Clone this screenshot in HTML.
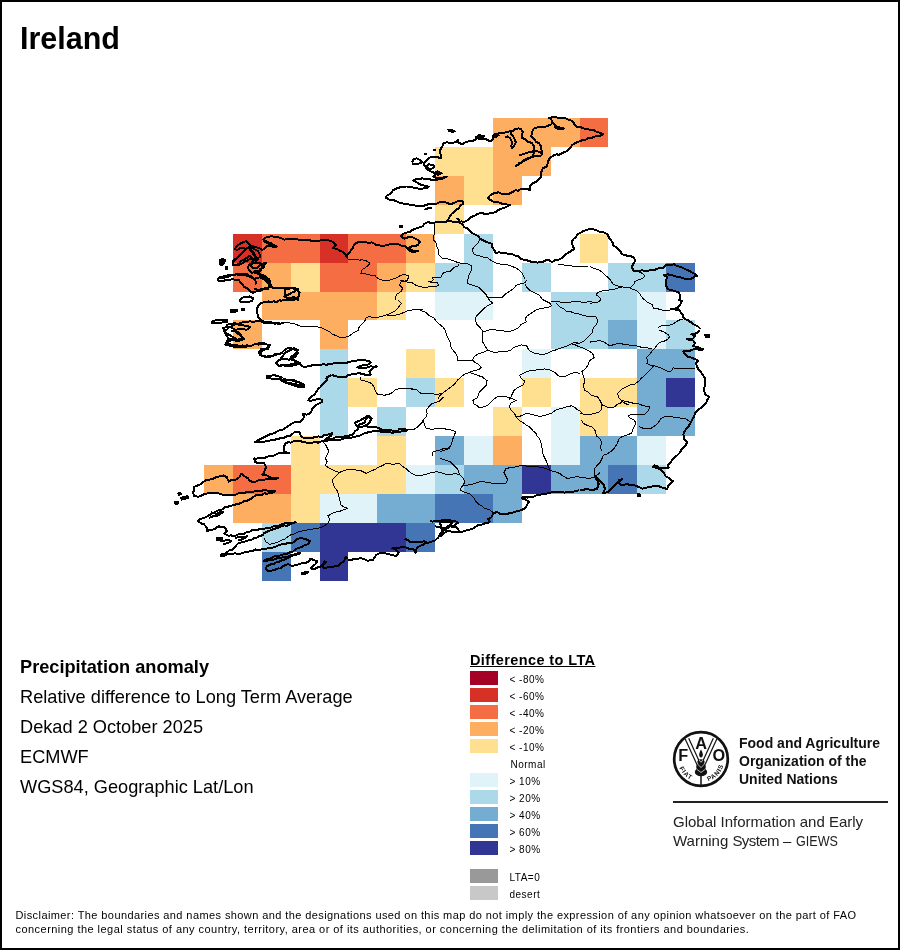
<!DOCTYPE html>
<html><head><meta charset="utf-8"><style>
*{margin:0;padding:0;box-sizing:border-box}
html,body{width:900px;height:950px;background:#fff;overflow:hidden}
body{position:relative;font-family:"Liberation Sans",sans-serif;color:#000}
.gs{position:absolute;left:0;top:0;width:900px;height:950px;will-change:transform}
#frame{position:absolute;left:0;top:0;width:900px;height:950px;border:2px solid #000}
.t{position:absolute;white-space:nowrap;line-height:1}
#title{left:20px;top:23px;font-size:30.5px;font-weight:bold}
.info{position:absolute;left:20px;font-size:18.2px;white-space:nowrap;line-height:20px}
#lt{position:absolute;left:470px;top:652px;font-size:14.5px;font-weight:bold;text-decoration:underline;white-space:nowrap;line-height:17px;letter-spacing:0.4px}
.lb{position:absolute;left:470px;width:28px;height:14px}
.lt{position:absolute;left:509.5px;margin-top:2px;font-size:10px;line-height:14px;white-space:nowrap;letter-spacing:0.5px}
#map{position:absolute;left:0;top:0}
.fao{position:absolute;left:739px;font-weight:bold;font-size:14px;line-height:18px;white-space:nowrap;color:#111}
.giews{position:absolute;left:673px;font-size:15px;line-height:18px;white-space:nowrap;color:#222}
#disc1,#disc2{position:absolute;left:15.5px;font-size:11px;line-height:13px;white-space:nowrap}
#disc1{top:909px;letter-spacing:0.41px}
#disc2{top:922.5px;letter-spacing:0.46px}
</style></head><body>
<svg id="map" width="900" height="950" viewBox="0 0 900 950" shape-rendering="crispEdges">
<rect x="492.86" y="117.95" width="28.90" height="28.95" fill="#fdae61"/>
<rect x="521.74" y="117.95" width="28.90" height="28.95" fill="#fdae61"/>
<rect x="550.62" y="117.95" width="28.90" height="28.95" fill="#fdae61"/>
<rect x="579.50" y="117.95" width="28.90" height="28.95" fill="#f46d43"/>
<rect x="435.10" y="146.88" width="28.90" height="28.95" fill="#fee090"/>
<rect x="463.98" y="146.88" width="28.90" height="28.95" fill="#fee090"/>
<rect x="492.86" y="146.88" width="28.90" height="28.95" fill="#fdae61"/>
<rect x="521.74" y="146.88" width="28.90" height="28.95" fill="#fdae61"/>
<rect x="435.10" y="175.81" width="28.90" height="28.95" fill="#fdae61"/>
<rect x="463.98" y="175.81" width="28.90" height="28.95" fill="#fee090"/>
<rect x="492.86" y="175.81" width="28.90" height="28.95" fill="#fdae61"/>
<rect x="435.10" y="204.74" width="28.90" height="28.95" fill="#fee090"/>
<rect x="232.94" y="233.67" width="28.90" height="28.95" fill="#d73027"/>
<rect x="261.82" y="233.67" width="28.90" height="28.95" fill="#f46d43"/>
<rect x="290.70" y="233.67" width="28.90" height="28.95" fill="#f46d43"/>
<rect x="319.58" y="233.67" width="28.90" height="28.95" fill="#d73027"/>
<rect x="348.46" y="233.67" width="28.90" height="28.95" fill="#f46d43"/>
<rect x="377.34" y="233.67" width="28.90" height="28.95" fill="#f46d43"/>
<rect x="406.22" y="233.67" width="28.90" height="28.95" fill="#fdae61"/>
<rect x="463.98" y="233.67" width="28.90" height="28.95" fill="#abd9e9"/>
<rect x="579.50" y="233.67" width="28.90" height="28.95" fill="#fee090"/>
<rect x="232.94" y="262.60" width="28.90" height="28.95" fill="#f46d43"/>
<rect x="261.82" y="262.60" width="28.90" height="28.95" fill="#fdae61"/>
<rect x="290.70" y="262.60" width="28.90" height="28.95" fill="#fee090"/>
<rect x="319.58" y="262.60" width="28.90" height="28.95" fill="#f46d43"/>
<rect x="348.46" y="262.60" width="28.90" height="28.95" fill="#f46d43"/>
<rect x="377.34" y="262.60" width="28.90" height="28.95" fill="#fdae61"/>
<rect x="406.22" y="262.60" width="28.90" height="28.95" fill="#fee090"/>
<rect x="435.10" y="262.60" width="28.90" height="28.95" fill="#abd9e9"/>
<rect x="463.98" y="262.60" width="28.90" height="28.95" fill="#abd9e9"/>
<rect x="521.74" y="262.60" width="28.90" height="28.95" fill="#abd9e9"/>
<rect x="608.38" y="262.60" width="28.90" height="28.95" fill="#abd9e9"/>
<rect x="637.26" y="262.60" width="28.90" height="28.95" fill="#abd9e9"/>
<rect x="666.14" y="262.60" width="28.90" height="28.95" fill="#4575b4"/>
<rect x="261.82" y="291.53" width="28.90" height="28.95" fill="#fdae61"/>
<rect x="290.70" y="291.53" width="28.90" height="28.95" fill="#fdae61"/>
<rect x="319.58" y="291.53" width="28.90" height="28.95" fill="#fdae61"/>
<rect x="348.46" y="291.53" width="28.90" height="28.95" fill="#fdae61"/>
<rect x="377.34" y="291.53" width="28.90" height="28.95" fill="#fee090"/>
<rect x="435.10" y="291.53" width="28.90" height="28.95" fill="#e0f3f8"/>
<rect x="463.98" y="291.53" width="28.90" height="28.95" fill="#e0f3f8"/>
<rect x="550.62" y="291.53" width="28.90" height="28.95" fill="#abd9e9"/>
<rect x="579.50" y="291.53" width="28.90" height="28.95" fill="#abd9e9"/>
<rect x="608.38" y="291.53" width="28.90" height="28.95" fill="#abd9e9"/>
<rect x="637.26" y="291.53" width="28.90" height="28.95" fill="#e0f3f8"/>
<rect x="232.94" y="320.46" width="28.90" height="28.95" fill="#fdae61"/>
<rect x="319.58" y="320.46" width="28.90" height="28.95" fill="#fdae61"/>
<rect x="550.62" y="320.46" width="28.90" height="28.95" fill="#abd9e9"/>
<rect x="579.50" y="320.46" width="28.90" height="28.95" fill="#abd9e9"/>
<rect x="608.38" y="320.46" width="28.90" height="28.95" fill="#74add1"/>
<rect x="637.26" y="320.46" width="28.90" height="28.95" fill="#e0f3f8"/>
<rect x="666.14" y="320.46" width="28.90" height="28.95" fill="#abd9e9"/>
<rect x="319.58" y="349.39" width="28.90" height="28.95" fill="#abd9e9"/>
<rect x="406.22" y="349.39" width="28.90" height="28.95" fill="#fee090"/>
<rect x="521.74" y="349.39" width="28.90" height="28.95" fill="#e0f3f8"/>
<rect x="637.26" y="349.39" width="28.90" height="28.95" fill="#74add1"/>
<rect x="666.14" y="349.39" width="28.90" height="28.95" fill="#74add1"/>
<rect x="319.58" y="378.32" width="28.90" height="28.95" fill="#abd9e9"/>
<rect x="348.46" y="378.32" width="28.90" height="28.95" fill="#fee090"/>
<rect x="406.22" y="378.32" width="28.90" height="28.95" fill="#abd9e9"/>
<rect x="435.10" y="378.32" width="28.90" height="28.95" fill="#fee090"/>
<rect x="521.74" y="378.32" width="28.90" height="28.95" fill="#fee090"/>
<rect x="579.50" y="378.32" width="28.90" height="28.95" fill="#fee090"/>
<rect x="608.38" y="378.32" width="28.90" height="28.95" fill="#fee090"/>
<rect x="637.26" y="378.32" width="28.90" height="28.95" fill="#74add1"/>
<rect x="666.14" y="378.32" width="28.90" height="28.95" fill="#313695"/>
<rect x="319.58" y="407.25" width="28.90" height="28.95" fill="#abd9e9"/>
<rect x="377.34" y="407.25" width="28.90" height="28.95" fill="#abd9e9"/>
<rect x="492.86" y="407.25" width="28.90" height="28.95" fill="#fee090"/>
<rect x="550.62" y="407.25" width="28.90" height="28.95" fill="#e0f3f8"/>
<rect x="579.50" y="407.25" width="28.90" height="28.95" fill="#fee090"/>
<rect x="637.26" y="407.25" width="28.90" height="28.95" fill="#74add1"/>
<rect x="666.14" y="407.25" width="28.90" height="28.95" fill="#74add1"/>
<rect x="290.70" y="436.18" width="28.90" height="28.95" fill="#fee090"/>
<rect x="377.34" y="436.18" width="28.90" height="28.95" fill="#fee090"/>
<rect x="435.10" y="436.18" width="28.90" height="28.95" fill="#74add1"/>
<rect x="463.98" y="436.18" width="28.90" height="28.95" fill="#e0f3f8"/>
<rect x="492.86" y="436.18" width="28.90" height="28.95" fill="#fdae61"/>
<rect x="550.62" y="436.18" width="28.90" height="28.95" fill="#e0f3f8"/>
<rect x="579.50" y="436.18" width="28.90" height="28.95" fill="#74add1"/>
<rect x="608.38" y="436.18" width="28.90" height="28.95" fill="#74add1"/>
<rect x="637.26" y="436.18" width="28.90" height="28.95" fill="#e0f3f8"/>
<rect x="204.06" y="465.11" width="28.90" height="28.95" fill="#fdae61"/>
<rect x="232.94" y="465.11" width="28.90" height="28.95" fill="#f46d43"/>
<rect x="261.82" y="465.11" width="28.90" height="28.95" fill="#f46d43"/>
<rect x="290.70" y="465.11" width="28.90" height="28.95" fill="#fee090"/>
<rect x="319.58" y="465.11" width="28.90" height="28.95" fill="#fee090"/>
<rect x="348.46" y="465.11" width="28.90" height="28.95" fill="#fee090"/>
<rect x="377.34" y="465.11" width="28.90" height="28.95" fill="#fee090"/>
<rect x="406.22" y="465.11" width="28.90" height="28.95" fill="#e0f3f8"/>
<rect x="435.10" y="465.11" width="28.90" height="28.95" fill="#abd9e9"/>
<rect x="463.98" y="465.11" width="28.90" height="28.95" fill="#74add1"/>
<rect x="492.86" y="465.11" width="28.90" height="28.95" fill="#74add1"/>
<rect x="521.74" y="465.11" width="28.90" height="28.95" fill="#313695"/>
<rect x="550.62" y="465.11" width="28.90" height="28.95" fill="#74add1"/>
<rect x="579.50" y="465.11" width="28.90" height="28.95" fill="#74add1"/>
<rect x="608.38" y="465.11" width="28.90" height="28.95" fill="#4575b4"/>
<rect x="637.26" y="465.11" width="28.90" height="28.95" fill="#abd9e9"/>
<rect x="232.94" y="494.04" width="28.90" height="28.95" fill="#fdae61"/>
<rect x="261.82" y="494.04" width="28.90" height="28.95" fill="#fdae61"/>
<rect x="290.70" y="494.04" width="28.90" height="28.95" fill="#fee090"/>
<rect x="319.58" y="494.04" width="28.90" height="28.95" fill="#e0f3f8"/>
<rect x="348.46" y="494.04" width="28.90" height="28.95" fill="#e0f3f8"/>
<rect x="377.34" y="494.04" width="28.90" height="28.95" fill="#74add1"/>
<rect x="406.22" y="494.04" width="28.90" height="28.95" fill="#74add1"/>
<rect x="435.10" y="494.04" width="28.90" height="28.95" fill="#4575b4"/>
<rect x="463.98" y="494.04" width="28.90" height="28.95" fill="#4575b4"/>
<rect x="492.86" y="494.04" width="28.90" height="28.95" fill="#74add1"/>
<rect x="261.82" y="522.97" width="28.90" height="28.95" fill="#abd9e9"/>
<rect x="290.70" y="522.97" width="28.90" height="28.95" fill="#4575b4"/>
<rect x="319.58" y="522.97" width="28.90" height="28.95" fill="#313695"/>
<rect x="348.46" y="522.97" width="28.90" height="28.95" fill="#313695"/>
<rect x="377.34" y="522.97" width="28.90" height="28.95" fill="#313695"/>
<rect x="406.22" y="522.97" width="28.90" height="28.95" fill="#4575b4"/>
<rect x="261.82" y="551.90" width="28.90" height="28.95" fill="#4575b4"/>
<rect x="319.58" y="551.90" width="28.90" height="28.95" fill="#313695"/>
<g shape-rendering="crispEdges">
<path d="M434.0,224.0 L434.4,227.5 L435.0,231.0 L434.0,235.0 L433.0,239.0 L436.0,243.0 L436.5,246.2 L438.0,249.0 L438.3,252.0 L439.0,255.0 L442.0,258.0 L445.0,258.5 L448.0,259.0 L451.0,260.1 L454.0,261.0 L456.9,262.2 L460.0,263.0 L464.1,263.0 L468.0,264.0 L472.0,266.0 L471.0,271.0 L469.0,275.0 L468.0,279.0 L467.2,281.0" fill="none" stroke="#000" stroke-width="1" stroke-linejoin="round"/>
<path d="M480.0,239.0 L478.0,243.0 L474.0,247.0 L472.0,250.0 L474.0,254.0 L476.8,255.5 L480.0,256.0 L483.9,257.3 L488.0,258.0 L490.8,260.4 L494.0,262.0 L496.9,263.3 L500.0,264.0 L504.0,264.4 L508.0,265.0 L512.0,266.4 L516.0,268.0 L519.3,270.1 L522.0,273.0 L524.0,277.0 L524.8,279.4" fill="none" stroke="#000" stroke-width="1" stroke-linejoin="round"/>
<path d="M551.0,301.0 L554.0,301.5 L557.1,301.1 L560.0,302.0 L564.1,302.0 L568.0,303.0 L571.9,301.7 L576.0,301.0 L580.1,301.6 L584.0,303.0 L588.0,301.8 L592.0,301.0" fill="none" stroke="#000" stroke-width="1" stroke-linejoin="round"/>
<path d="M556.0,303.0 L560.0,307.0 L563.3,308.6 L566.0,311.0 L570.1,311.4 L574.0,313.0 L578.1,313.6 L582.0,315.0 L585.2,315.5 L588.0,317.0 L592.0,316.8 L596.0,317.0 L598.0,321.0 L596.5,324.3 L594.0,327.0 L592.6,329.9 L592.0,333.0 L588.0,337.0 L584.0,341.0 L580.0,343.0 L576.0,343.9 L572.0,345.0" fill="none" stroke="#000" stroke-width="1" stroke-linejoin="round"/>
<path d="M558.0,264.0 L561.1,264.1 L564.0,265.0 L568.0,265.2 L572.0,266.0 L576.0,266.3 L580.0,267.0 L584.0,266.3 L588.0,266.0" fill="none" stroke="#000" stroke-width="1" stroke-linejoin="round"/>
<path d="M400.0,280.4 L403.1,280.6 L406.0,281.6 L409.0,282.6 L412.1,282.8 L415.8,285.2 L420.0,286.9 L425.6,287.2 L431.1,286.7 L436.7,286.4 L438.9,285.0 L437.2,282.8 L433.3,282.8 L428.3,281.4 L431.1,281.7 L433.3,279.4 L432.2,277.8 L436.7,277.5 L441.1,277.2 L442.2,274.4 L443.9,272.8 L447.2,271.7 L450.0,271.7 L452.2,269.4 L454.4,267.2 L457.8,266.1 L458.9,264.7" fill="none" stroke="#000" stroke-width="1" stroke-linejoin="round"/>
<path d="M346.7,257.2 L348.2,259.6 L352.1,259.6 L356.0,259.6 L359.1,260.1 L362.2,259.9 L365.3,260.3 L370.0,263.4 L366.9,266.6 L362.2,269.7 L360.7,273.6 L363.8,273.6 L366.9,274.3 L370.7,275.1 L374.7,275.1 L376.6,277.5 L379.3,279.0 L382.3,280.2 L385.6,280.6 L389.5,280.1 L393.3,279.0 L396.6,277.8 L399.6,275.9 L404.2,274.3 L408.9,275.9 L407.3,280.6 L404.2,281.1 L401.1,282.1 L399.6,285.2 L402.7,288.3 L401.1,291.4 L396.4,294.6 L394.9,300.0" fill="none" stroke="#000" stroke-width="1" stroke-linejoin="round"/>
<path d="M283.6,322.7 L288.0,322.8 L292.4,323.2 L296.0,324.4 L299.6,325.9 L303.0,326.9 L306.7,326.8 L310.2,327.0 L313.8,326.4 L317.3,326.8 L321.0,327.5 L324.4,329.1" fill="none" stroke="#000" stroke-width="1" stroke-linejoin="round"/>
<path d="M321.8,441.3 L325.3,444.0 L327.1,447.6 L328.9,451.1 L327.1,454.7 L325.3,458.2 L327.1,461.8 L325.3,465.3 L328.9,468.0 L334.2,470.7 L339.6,472.4 L336.0,476.0 L332.4,479.6" fill="none" stroke="#000" stroke-width="1" stroke-linejoin="round"/>
<path d="M339.6,472.4 L343.0,470.9 L346.7,469.8 L350.2,469.3 L353.8,469.8 L357.3,470.1 L360.9,470.7 L366.2,473.3 L371.6,470.7 L375.3,469.3 L378.7,467.1 L382.4,465.7 L385.8,463.6 L389.4,463.7 L392.9,464.4 L396.4,463.6 L400.0,463.6" fill="none" stroke="#000" stroke-width="1" stroke-linejoin="round"/>
<path d="M332.0,480.0 L333.8,485.3 L335.2,488.3 L337.3,490.7 L338.4,494.2 L339.1,497.8 L340.2,501.3 L340.9,504.9 L344.2,507.2 L348.0,508.4 L342.7,510.2 L339.2,511.5 L335.6,512.0 L331.9,513.5 L328.4,515.6" fill="none" stroke="#000" stroke-width="1" stroke-linejoin="round"/>
<path d="M440.0,458.4 L445.3,460.2 L450.7,462.0 L454.2,465.6 L457.8,469.1 L459.6,474.4 L463.1,478.0 L464.9,482.4 L461.3,486.9 L460.4,490.4 L464.9,492.2 L470.2,494.0 L473.8,497.6 L475.6,501.1 L479.1,504.7 L482.0,506.0 L484.4,508.2 L489.8,510.0 L493.3,512.7" fill="none" stroke="#000" stroke-width="1" stroke-linejoin="round"/>
<path d="M639.1,426.4 L642.1,427.9 L645.3,428.8 L648.5,428.5 L651.6,428.0 L656.2,424.9 L658.7,421.9 L660.9,418.7 L663.8,417.0 L667.1,416.3 L670.3,416.3 L673.3,417.1 L676.5,417.2 L679.6,417.9 L682.6,418.6 L685.8,418.7 L688.9,421.0 L691.2,422.6" fill="none" stroke="#000" stroke-width="1" stroke-linejoin="round"/>
<path d="M600.2,400.0 L601.8,404.7 L605.0,406.0 L608.0,407.8 L611.1,407.5 L614.2,407.0 L617.0,404.6 L620.4,403.1 L623.6,400.0" fill="none" stroke="#000" stroke-width="1" stroke-linejoin="round"/>
<path d="M623.6,401.6 L626.8,401.6 L629.8,402.3 L632.9,403.1 L636.0,403.7 L639.1,403.9 L642.1,405.3 L645.3,406.2 L650.0,407.0 L648.4,410.9 L645.3,414.0 L642.2,414.2 L639.1,414.8 L636.0,414.6 L632.9,414.0 L628.2,415.6 L629.8,417.9 L634.4,420.2 L636.0,423.3 L634.4,426.4 L632.9,429.6 L631.3,433.4 L626.7,435.0 L622.0,436.6 L618.9,438.9 L617.3,443.6 L614.2,448.2 L611.1,451.3 L606.4,454.4 L603.3,455.2 L601.8,459.1 L600.2,462.2 L597.1,465.3 L594.8,468.4 L594.0,473.1 L594.8,476.2" fill="none" stroke="#000" stroke-width="1" stroke-linejoin="round"/>
<path d="M580.0,413.2 L583.1,414.0 L586.2,414.8 L589.3,414.3 L592.4,414.0 L595.5,413.2 L598.7,412.4 L601.8,409.3 L601.8,404.7" fill="none" stroke="#000" stroke-width="1" stroke-linejoin="round"/>
<path d="M581.6,420.2 L583.1,423.3 L587.8,425.7 L592.4,427.2 L595.6,431.1 L596.3,435.8 L600.2,438.9 L601.8,443.6 L600.2,446.7 L601.8,451.3" fill="none" stroke="#000" stroke-width="1" stroke-linejoin="round"/>
<path d="M590.0,266.7 L593.0,268.1 L596.2,269.0 L599.5,270.3 L602.4,272.1 L604.4,274.8 L607.1,276.8 L610.2,279.9 L613.3,284.6 L618.0,286.1 L622.7,286.9 L627.3,287.7 L630.4,287.7 L633.6,284.6 L635.1,281.4 L638.2,279.9 L642.9,278.3 L645.2,276.0 L642.9,273.7 L638.2,271.3" fill="none" stroke="#000" stroke-width="1" stroke-linejoin="round"/>
<path d="M622.7,286.9 L619.6,287.7 L616.4,288.4 L612.7,289.8 L608.7,290.0 L605.6,291.0 L602.4,290.8 L597.8,292.3 L596.2,294.7 L599.3,297.0 L600.9,300.1 L597.8,302.4 L593.9,302.8 L590.0,303.2" fill="none" stroke="#000" stroke-width="1" stroke-linejoin="round"/>
<path d="M630.4,288.4 L633.6,289.6 L636.7,290.8 L639.8,293.9 L642.9,298.6 L645.4,300.3 L647.6,302.4 L652.2,304.8 L653.8,308.7 L656.9,308.6 L660.0,309.4 L664.7,311.0 L669.3,310.2 L674.0,308.7 L678.7,308.7" fill="none" stroke="#000" stroke-width="1" stroke-linejoin="round"/>
<path d="M683.3,318.8 L678.7,320.3 L674.0,323.4 L671.0,324.8 L667.8,325.8 L664.7,326.0 L661.6,325.8 L658.4,327.3" fill="none" stroke="#000" stroke-width="1" stroke-linejoin="round"/>
<path d="M590.0,342.1 L594.7,341.3 L599.3,340.6 L604.0,342.1 L608.7,345.2 L611.8,345.2 L614.9,344.4 L617.9,343.5 L621.1,343.7 L624.2,344.4 L627.3,344.4 L630.3,345.6 L633.6,346.0 L636.7,345.9 L639.8,346.8 L642.8,347.7 L646.0,347.6 L649.1,348.2 L652.2,348.3" fill="none" stroke="#000" stroke-width="1" stroke-linejoin="round"/>
<path d="M467.1,280.0 L468.0,283.6 L473.3,285.3 L478.7,287.1 L482.2,290.7 L485.8,294.2 L487.6,297.8 L489.9,300.8 L492.9,303.1 L487.6,305.8 L484.0,308.4 L480.4,312.0 L476.9,315.6 L475.1,319.1 L476.9,324.4 L480.4,328.0 L483.1,331.6 L482.2,336.9 L482.2,341.3 L484.9,345.8 L487.6,350.2 L484.0,352.0 L478.7,353.8 L474.2,356.4 L472.4,360.0 L475.1,362.7 L478.7,364.4 L481.3,367.1 L478.7,369.8 L473.3,370.7 L469.8,372.4 L464.4,374.2 L460.9,376.9 L457.3,380.4 L453.8,384.9 L450.2,387.6 L446.7,390.2 L443.1,392.9 L439.6,395.6 L437.8,399.1" fill="none" stroke="#000" stroke-width="1" stroke-linejoin="round"/>
<path d="M487.6,297.8 L491.1,297.5 L494.7,297.8 L498.2,297.6 L501.8,297.8 L505.3,294.2 L507.9,292.3 L510.7,290.7 L513.8,288.4 L516.0,285.3 L521.3,283.6 L524.9,282.7 L526.7,280.0" fill="none" stroke="#000" stroke-width="1" stroke-linejoin="round"/>
<path d="M524.9,283.6 L526.7,287.1 L530.2,290.7 L535.6,293.3 L539.1,295.1 L542.7,299.6 L546.2,301.3 L549.8,303.1 L551.6,305.8 L548.0,307.6 L544.4,307.9 L540.9,308.4 L535.6,310.2 L533.0,312.1 L530.2,313.8 L526.7,316.4 L524.9,319.1 L526.7,321.8 L521.3,324.4 L517.8,328.0 L512.4,330.7 L507.1,331.6 L501.8,330.7 L498.2,330.3 L494.7,329.8 L489.3,329.8 L484.0,331.6" fill="none" stroke="#000" stroke-width="1" stroke-linejoin="round"/>
<path d="M420.0,310.2 L425.3,312.0 L428.9,315.6 L434.2,318.2 L436.0,320.9 L439.6,324.4 L443.1,327.1 L444.9,329.8 L446.7,335.1 L448.4,338.7 L450.2,342.2 L451.1,347.6 L453.8,351.1 L455.8,353.6 L457.3,356.4 L457.3,360.0 L462.7,360.9 L468.0,360.9 L472.4,360.9" fill="none" stroke="#000" stroke-width="1" stroke-linejoin="round"/>
<path d="M487.6,350.2 L492.9,352.0 L498.2,352.0 L501.8,351.5 L505.3,352.0 L510.7,350.2 L513.1,348.0 L516.0,346.7 L521.3,344.9 L526.7,345.8 L528.1,348.7 L530.2,351.1 L533.8,352.9 L537.4,353.5 L540.9,354.7 L544.6,354.3 L548.0,352.9 L551.4,351.3 L555.1,350.2 L558.6,348.6 L562.2,347.6 L567.6,345.8 L572.9,343.1 L576.4,342.2 L580.0,344.0" fill="none" stroke="#000" stroke-width="1" stroke-linejoin="round"/>
<path d="M469.8,372.4 L473.3,373.8 L476.9,375.1 L482.2,376.9 L485.8,379.6" fill="none" stroke="#000" stroke-width="1" stroke-linejoin="round"/>
<path d="M580.0,373.3 L574.7,372.4 L569.3,374.2 L564.0,376.9 L558.7,376.0 L555.1,372.4 L549.8,369.8 L544.4,368.9 L540.9,369.7 L537.3,369.8 L533.8,370.4 L530.2,370.7 L524.9,372.4 L519.6,375.1 L521.3,378.7 L524.9,381.3 L523.1,384.9 L517.8,387.6 L514.2,390.2 L512.4,393.8 L510.7,397.3 L508.9,400.0" fill="none" stroke="#000" stroke-width="1" stroke-linejoin="round"/>
<path d="M330.0,332.0 L332.4,334.1 L335.3,335.3 L340.7,338.0 L344.1,337.8 L347.3,336.7 L350.2,335.3 L352.7,333.3 L358.0,330.7 L359.3,326.7 L362.0,324.0 L364.7,321.3 L366.0,318.0 L368.7,316.7 L372.7,317.3 L376.7,317.3 L380.7,316.7 L386.0,314.9 L390.1,313.5 L394.0,311.7 L398.0,308.0 L401.3,303.3 L398.0,300.0" fill="none" stroke="#000" stroke-width="1" stroke-linejoin="round"/>
<path d="M386.0,314.9 L390.0,315.6 L394.0,315.3 L398.1,314.8 L402.0,313.3 L407.3,310.7 L411.3,310.1 L415.3,309.3 L419.3,309.9 L423.3,310.0" fill="none" stroke="#000" stroke-width="1" stroke-linejoin="round"/>
<path d="M396.7,389.3 L402.0,388.0 L407.3,388.0 L412.7,389.3" fill="none" stroke="#000" stroke-width="1" stroke-linejoin="round"/>
<path d="M407.3,430.0 L410.7,429.6 L414.0,429.3 L418.0,426.7 L422.0,422.7 L423.3,420.0 L426.0,417.3 L427.3,413.3 L426.0,410.7 L428.7,406.7 L431.3,404.0 L435.3,402.7 L439.3,401.3 L443.3,397.3" fill="none" stroke="#000" stroke-width="1" stroke-linejoin="round"/>
<path d="M423.3,421.3 L424.7,425.3 L426.0,428.0 L431.3,429.3 L436.7,428.7 L442.0,428.7 L447.3,429.3 L450.0,430.0" fill="none" stroke="#000" stroke-width="1" stroke-linejoin="round"/>
<path d="M360.4,377.3 L360.7,380.0 L366.0,381.3 L371.3,383.3 L374.0,386.7 L375.3,390.7 L377.3,394.0 L380.7,394.7 L384.0,395.1 L387.3,394.9 L391.3,393.3 L395.3,390.0 L400.7,388.0 L406.0,388.0 L411.3,388.7 L416.7,390.0 L420.7,393.3 L426.0,394.0 L431.3,393.3 L436.7,394.7 L442.0,393.3" fill="none" stroke="#000" stroke-width="1" stroke-linejoin="round"/>
<path d="M450.0,448.0 L446.6,448.2 L443.3,448.7 L440.1,449.9 L436.7,450.7 L432.7,452.0 L432.7,456.0" fill="none" stroke="#000" stroke-width="1" stroke-linejoin="round"/>
<path d="M487.1,380.0 L486.2,385.3 L482.7,388.9 L479.1,392.4 L477.3,397.8 L472.9,400.4 L473.8,404.0 L476.7,405.3 L479.1,407.6 L484.4,406.7 L487.4,405.3 L489.8,403.1 L493.3,399.6 L496.9,396.9 L500.4,396.0 L504.0,396.0 L509.3,397.8 L512.9,399.1 L516.4,400.4 L511.1,403.1 L509.3,406.7 L511.1,410.2 L514.7,413.8 L516.4,417.3 L520.0,420.9 L522.8,422.5 L525.3,424.4 L528.1,426.0 L530.7,428.0 L533.1,430.9 L536.0,433.3 L537.3,436.3 L539.6,438.7 L541.3,444.0 L542.2,449.3 L543.1,454.7 L544.9,458.2 L546.7,461.8 L548.4,467.1 L550.2,470.7" fill="none" stroke="#000" stroke-width="1" stroke-linejoin="round"/>
<path d="M516.4,417.3 L521.8,415.6 L527.1,412.9 L532.4,414.7 L536.1,415.3 L539.6,416.4 L543.2,415.7 L546.7,414.7 L552.0,412.9 L554.5,410.9 L557.3,409.3 L560.9,408.5 L564.4,407.6 L568.0,406.5 L571.6,405.8 L574.4,407.2 L576.9,409.3 L579.8,410.8 L582.2,412.9" fill="none" stroke="#000" stroke-width="1" stroke-linejoin="round"/>
<path d="M440.0,428.0 L445.3,428.9 L450.7,429.8 L456.0,431.6 L454.2,435.1 L452.4,440.4 L450.7,445.8 L447.1,449.3 L441.8,451.1 L440.0,451.1" fill="none" stroke="#000" stroke-width="1" stroke-linejoin="round"/>
<path d="M461.3,486.7 L464.8,485.4 L468.4,484.9 L472.1,484.5 L475.6,483.1 L480.9,481.3 L486.2,482.2 L491.6,483.1 L495.1,483.6 L498.7,484.0 L502.2,483.2 L505.8,483.1 L507.6,479.6 L505.8,476.0 L504.0,472.4 L505.8,468.9 L511.1,467.1 L514.7,467.2 L518.2,466.2 L523.6,465.3 L527.9,466.4 L532.4,466.2 L536.0,466.6 L539.6,467.1 L543.2,467.6 L546.7,468.9 L550.2,470.7 L553.9,471.2 L557.3,472.4 L560.3,473.8 L562.7,476.0 L568.0,478.7 L571.5,477.6 L575.1,476.9 L578.7,476.8 L582.2,477.8 L585.8,477.9 L589.3,478.7 L594.7,476.9 L598.2,474.2 L600.0,472.4" fill="none" stroke="#000" stroke-width="1" stroke-linejoin="round"/>
<path d="M653.3,366.1 L651.2,369.0 L648.7,371.6 L646.3,373.8 L644.0,376.2 L641.3,378.2 L639.3,380.9 L634.7,384.0 L631.5,384.5 L628.4,385.6 L625.4,387.2 L622.2,388.7 L620.0,391.1 L617.6,393.3 L619.1,398.0 L621.4,400.4 L623.8,402.7 L628.4,405.0" fill="none" stroke="#000" stroke-width="1" stroke-linejoin="round"/>
<path d="M572.4,343.6 L575.6,345.0 L578.7,346.7 L582.6,348.0 L586.4,349.8 L589.8,351.3 L592.7,353.7 L594.2,357.6 L589.6,360.7 L588.0,365.3 L584.9,369.2 L581.8,371.6 L583.3,376.2 L584.9,380.9 L583.3,385.6 L584.9,390.2 L588.2,392.3 L591.1,394.9 L594.1,396.2 L597.3,396.4 L600.4,401.1 L602.0,405.0" fill="none" stroke="#000" stroke-width="1" stroke-linejoin="round"/>
<path d="M659.0,330.0 L663.7,331.9 L668.4,334.7 L669.4,337.1 L667.5,339.5 L663.7,341.4 L659.9,342.3 L657.1,345.2 L655.2,347.5 L652.3,350.9 L649.5,354.6 L646.6,357.5 L647.6,361.3 L646.6,363.6 L650.4,365.1 L655.2,366.0 L660.9,367.9 L664.6,369.8 L668.4,371.7 L671.3,370.8 L673.2,367.9 L677.9,368.4 L683.6,368.9 L689.3,368.9 L695.0,368.9" fill="none" stroke="#000" stroke-width="1" stroke-linejoin="round"/>
<path d="M264.3,537.7 L265.7,541.7 L269.7,544.3 L275.0,543.0 L278.4,541.8 L281.7,540.3 L285.3,538.8 L288.3,536.3 L291.5,534.5 L295.0,533.7 L298.2,532.0 L301.7,531.0 L305.0,530.3 L308.3,529.7 L311.8,529.5 L315.0,528.3 L318.4,528.2 L321.7,527.0 L327.0,524.3 L329.7,520.3 L328.3,516.3 L327.0,515.0" fill="none" stroke="#000" stroke-width="1" stroke-linejoin="round"/>
<path d="M400.0,464.2 L403.2,466.9 L406.7,469.2 L408.9,471.5 L411.7,473.3 L414.9,474.9 L418.3,475.8 L422.5,475.1 L426.7,474.2 L429.9,473.1 L433.3,472.3 L436.7,471.7 L440.0,472.3 L443.3,473.3 L448.3,475.0 L451.7,474.5 L455.0,473.3 L459.2,475.0" fill="none" stroke="#000" stroke-width="1" stroke-linejoin="round"/>
<path d="M324.4,329.1 L327.0,330.7 L330.0,332.0" fill="none" stroke="#000" stroke-width="1" stroke-linejoin="round"/>
<path d="M550.7,116.5 L552.1,117.2 L555.8,117.3 L559.3,117.9 L563.0,117.7 L566.6,118.7 L569.3,120.0 L572.3,120.8 L574.5,124.4 L576.7,126.6 L579.7,126.6 L582.4,128.1 L585.3,128.8 L588.3,129.3 L591.1,130.2 L594.2,130.3 L596.9,132.0 L599.8,132.8 L603.4,133.8 L600.4,135.7 L596.9,136.0 L594.0,136.8 L591.3,138.2 L588.2,138.2 L585.6,139.8 L582.5,140.2 L579.6,141.1 L575.2,143.2 L572.7,144.6 L570.9,146.8 L569.4,149.0 L567.4,150.6 L565.1,151.9 L562.1,153.1 L559.3,154.8 L556.3,154.3 L553.6,155.5 L549.9,157.7 L547.8,162.0 L547.1,166.3 L542.7,168.5 L541.3,172.1 L541.3,176.4 L539.4,178.5 L537.7,180.8 L534.9,182.4 L531.9,183.7 L529.7,186.6 L529.7,190.2 L527.3,189.0 L524.7,189.4 L520.3,189.2 L518.2,190.7 L515.3,190.2 L513.1,191.6 L510.8,192.9 L508.5,194.1 L505.9,194.5 L503.3,194.4 L501.0,193.4 L498.7,192.3 L494.3,193.1 L490.0,195.2" fill="none" stroke="#000" stroke-width="2" stroke-linejoin="round"/>
<path d="M490.0,141.4 L489.0,141.0 L486.7,139.5 L484.0,139.0 L481.7,138.0 L480.0,136.0 L480.0,134.4 L476.7,136.7 L475.6,140.0 L471.1,141.1 L468.3,141.5 L465.6,142.2 L462.2,144.4 L457.8,142.2 L455.0,142.3 L452.2,142.8 L449.4,142.7 L446.7,142.2 L443.3,143.3 L442.2,146.7 L440.6,148.9 L440.0,152.2 L441.1,155.6 L440.6,158.3 L436.7,156.7 L432.2,156.7 L428.9,157.8 L426.7,160.0 L424.4,162.2 L424.4,165.6 L426.7,168.9 L430.0,171.1 L433.3,172.2 L435.6,174.4 L433.3,176.7 L437.8,178.3 L442.2,177.8 L446.7,176.7 L442.2,178.9 L438.9,179.4 L435.6,180.0 L432.1,180.2 L428.9,178.9 L425.5,179.4 L422.2,178.3 L419.5,179.1 L416.7,178.9 L413.3,180.6 L416.7,182.2 L420.0,184.4 L424.4,185.6 L428.9,186.7 L426.7,188.3 L423.9,188.3 L421.1,188.9 L418.3,188.5 L415.6,187.8 L412.7,187.5 L410.0,186.7 L406.7,186.5 L403.3,186.7 L400.6,187.3 L397.8,187.8 L393.3,190.0 L391.1,193.3 L386.7,195.6 L386.1,197.8 L390.0,200.0 L393.1,200.1 L396.0,201.0 L398.8,202.5 L402.0,203.0 L404.6,204.0 L407.4,203.9 L410.0,205.0 L412.5,205.4 L415.0,205.5 L417.4,206.4 L420.0,206.0 L423.1,205.9 L426.0,205.0 L428.9,204.1 L432.0,204.0 L435.1,204.4 L438.0,203.0 L440.9,201.8 L444.0,202.0 L447.0,202.9 L450.0,204.0 L453.1,203.4 L456.0,202.0 L458.9,200.9 L462.0,201.0 L464.0,203.0" fill="none" stroke="#000" stroke-width="2" stroke-linejoin="round"/>
<path d="M464.0,203.0 L462.0,204.5 L460.0,206.0 L458.6,208.6 L455.8,209.8 L454.0,212.0 L451.7,213.7 L450.0,216.0 L448.0,220.0 L446.0,222.0" fill="none" stroke="#000" stroke-width="2" stroke-linejoin="round"/>
<path d="M490.0,195.2 L488.0,198.0 L489.9,199.6 L492.0,201.0 L494.5,202.3 L497.4,202.0 L500.0,203.0 L502.4,203.8 L505.0,204.2 L507.5,204.6 L510.0,205.0 L507.0,206.6 L504.0,208.0 L501.1,208.8 L498.3,210.0 L496.0,212.0 L493.3,212.7 L490.6,213.0 L488.0,214.0 L485.2,214.5 L482.7,213.0 L480.0,213.0 L476.9,214.3 L474.0,216.0 L470.5,217.3 L468.0,220.0 L464.0,222.0 L461.3,221.4 L458.7,222.4 L456.0,222.0 L453.3,221.9 L450.7,221.0 L448.0,221.0 L445.4,222.2 L442.7,221.7 L440.0,222.0" fill="none" stroke="#000" stroke-width="2" stroke-linejoin="round"/>
<path d="M412.2,162.2 L413.3,159.4 L416.7,158.3 L420.0,160.0 L422.2,162.2 L417.8,163.9 L413.3,164.4 L412.2,162.2" fill="none" stroke="#000" stroke-width="2" stroke-linejoin="round"/>
<path d="M457.0,218.0 L459.0,220.2 L460.0,223.0 L462.5,224.5 L464.0,227.0 L467.4,228.3 L470.0,231.0 L472.7,233.4 L476.0,235.0 L478.5,236.5 L480.0,239.0 L483.2,240.1 L486.0,242.0 L489.1,242.8 L492.0,244.0 L492.4,247.2 L494.0,250.0 L496.0,253.0 L498.7,252.2 L501.3,252.9 L504.0,253.0 L506.7,253.4 L509.2,254.4 L512.0,254.0 L514.8,255.5 L518.0,256.0 L520.6,258.5 L524.0,260.0 L526.8,260.3 L529.4,261.2 L532.0,262.0 L534.7,261.7 L537.3,262.7 L540.0,262.0 L543.3,261.8 L546.0,260.0 L549.2,260.4 L552.0,262.0 L554.8,260.4 L558.0,260.0 L562.0,258.0 L563.7,256.0 L565.7,254.3 L568.0,253.0 L571.0,251.0 L574.0,249.0 L573.1,246.4 L572.0,244.0 L572.0,241.0 L573.7,238.7 L576.0,237.0 L577.4,234.4 L580.0,233.0 L582.9,231.4 L586.0,230.0 L589.0,229.3 L592.0,229.0 L596.0,230.0 L600.0,232.0" fill="none" stroke="#000" stroke-width="2" stroke-linejoin="round"/>
<path d="M440.0,222.2 L436.8,221.7 L433.8,223.0 L430.7,222.7 L427.6,222.2 L424.4,223.8 L422.9,226.1 L418.2,227.7 L415.1,228.9 L412.0,230.0 L410.0,231.8 L407.3,232.3 L402.7,233.9 L401.1,236.2 L404.2,238.6 L408.9,237.0 L412.2,237.1 L415.1,238.6 L417.6,239.9 L419.8,241.7 L418.2,244.8 L415.2,246.0 L412.0,246.3 L408.9,247.9 L412.0,250.2 L415.0,251.2 L418.2,251.0 L415.1,251.8 L411.9,251.6 L408.9,250.2 L405.8,246.3 L402.5,246.4 L399.6,244.8 L396.5,243.6 L393.3,244.0 L390.2,244.3 L387.1,244.8 L384.1,245.8 L380.9,245.6 L376.2,244.8 L373.9,243.5 L371.6,242.4 L368.3,242.9 L365.3,241.7 L362.2,241.6 L359.1,241.7 L356.0,243.2 L353.7,245.1 L352.9,247.9 L349.8,251.8 L347.4,254.9 L346.7,257.2 L345.1,254.1 L343.1,252.0 L340.4,251.0 L338.3,249.5 L335.8,248.7 L332.7,247.9 L335.8,244.8 L332.7,241.7 L328.0,240.1 L324.9,240.5 L321.8,240.1 L318.7,240.7 L315.6,240.9 L312.4,241.1 L309.3,240.1 L306.2,239.6 L303.1,240.1 L300.0,240.1" fill="none" stroke="#000" stroke-width="2" stroke-linejoin="round"/>
<path d="M424.4,209.8 L428.3,208.2 L432.2,207.4" fill="none" stroke="#000" stroke-width="2" stroke-linejoin="round"/>
<path d="M296.0,238.8 L292.5,239.4 L289.0,239.0 L284.3,239.6 L280.8,238.1 L276.2,236.7 L273.3,236.5 L270.3,236.4 L265.7,237.6 L263.3,239.6 L265.1,241.9 L268.6,242.5 L271.0,243.3 L273.2,244.6 L277.1,246.6 L274.4,247.4 L270.9,245.8 L267.4,246.0 L264.5,248.3 L262.2,250.1 L259.8,248.3 L256.3,247.2 L251.7,246.0 L248.8,243.7 L246.4,240.8 L242.9,242.3 L239.4,244.2 L236.3,246.6 L234.8,248.9 L237.1,250.1 L240.0,248.3 L243.5,247.8 L245.8,249.7 L242.3,253.0 L239.4,255.1 L237.4,258.2 L234.4,259.4 L232.8,261.8 L233.0,264.7 L236.3,265.2 L239.1,263.5 L240.8,261.1 L243.5,260.0 L247.0,257.7 L249.3,255.6" fill="none" stroke="#000" stroke-width="2" stroke-linejoin="round"/>
<path d="M249.3,255.6 L251.7,257.9 L254.0,260.0 L251.7,262.3 L250.5,265.2 L252.8,267.6 L257.5,267.6 L259.8,265.2 L263.3,263.5 L266.2,262.6 L264.5,265.2 L262.2,267.6 L259.8,269.3 L258.7,271.7 L259.8,274.0 L263.3,275.4 L266.2,276.9 L268.6,278.9 L270.3,281.2 L270.3,284.5 L268.9,286.8" fill="none" stroke="#000" stroke-width="2" stroke-linejoin="round"/>
<path d="M217.2,279.2 L220.1,277.0 L223.7,276.3 L228.3,275.2 L231.8,274.5 L235.3,274.6 L240.0,274.0 L243.5,273.6 L247.0,274.0 L249.2,275.5 L251.7,276.3 L254.0,278.9 L256.3,282.2 L255.2,284.5" fill="none" stroke="#000" stroke-width="2" stroke-linejoin="round"/>
<path d="M217.2,279.6 L219.7,281.1 L222.5,281.0 L225.4,280.3 L228.3,279.8 L233.0,279.2 L235.8,280.3 L238.8,279.8 L240.0,282.2 L242.3,284.5 L244.1,287.0 L247.0,288.0 L250.5,291.5 L252.8,292.7 L256.3,291.5 L259.0,291.1 L261.0,289.2 L265.7,288.0 L269.2,287.4 L272.1,287.5 L275.0,288.0 L279.7,288.0 L283.2,287.5 L286.7,288.0 L290.2,287.8 L293.7,288.6 L298.3,288.9 L296.0,290.3 L293.9,292.0 L291.3,292.7 L289.2,294.3 L286.7,295.0 L284.3,296.4 L286.7,297.9 L290.2,297.8 L293.7,297.3 L298.3,298.7" fill="none" stroke="#000" stroke-width="2" stroke-linejoin="round"/>
<path d="M240.0,299.7 L243.5,297.3 L249.3,296.4 L253.4,298.5 L251.7,301.4 L244.7,302.0 L240.6,302.0Z" fill="none" stroke="#000" stroke-width="2" stroke-linejoin="round"/>
<path d="M298.7,300.1 L295.7,299.0 L292.4,299.2 L289.7,299.0 L287.1,300.0 L284.4,300.0 L281.8,300.6 L279.0,300.4 L276.5,302.0 L273.7,301.3 L271.1,301.9 L268.4,301.5 L265.7,302.0 L263.1,302.4 L260.4,303.1 L257.8,306.3 L257.2,309.0 L256.5,311.7 L257.7,314.2 L257.8,317.0 L261.3,320.2 L264.3,321.6 L267.6,322.0 L271.2,322.3 L274.7,323.2 L277.7,323.6 L280.6,323.7 L283.6,322.7" fill="none" stroke="#000" stroke-width="2" stroke-linejoin="round"/>
<path d="M283.6,322.7 L280.7,323.7 L277.5,322.7 L274.7,323.8 L271.2,322.7 L267.6,322.7 L263.9,322.7 L260.4,321.4 L256.8,321.1 L253.3,322.0 L249.7,321.3 L246.2,322.3 L243.5,322.2 L240.9,322.7 L238.3,323.7 L235.6,324.1 L233.2,324.9 L231.0,326.5 L228.4,326.8 L227.3,329.4 L224.9,330.9 L226.6,333.5 L229.3,334.8 L232.3,336.8 L235.6,338.3 L232.4,339.9 L229.3,341.5 L226.8,342.4 L225.2,344.6 L227.9,345.1 L230.6,345.8 L234.1,346.8 L237.7,346.5 L241.2,347.5 L244.8,347.2 L248.1,346.0 L251.6,345.8 L254.2,344.3 L257.2,343.7 L259.9,343.3 L262.6,343.7 L266.1,344.1 L269.3,345.4 L267.6,348.3 L264.2,348.7 L260.8,349.4 L258.7,352.9 L262.2,356.1 L265.1,356.2 L267.9,357.2 L270.5,356.5 L273.2,356.1 L275.7,354.6 L278.6,354.3 L281.5,353.2 L283.6,350.8 L287.5,348.3 L290.9,348.4 L294.2,349.0 L296.2,350.7 L298.1,352.6 L296.0,356.1 L292.4,358.2 L288.9,359.7 L285.0,359.0 L282.5,359.2 L280.0,359.7 L277.7,360.9 L276.4,363.2 L278.6,366.1 L282.1,365.4 L285.7,365.0 L289.2,365.0 L292.4,363.6 L295.3,363.4 L298.1,363.2 L300.8,365.0 L303.5,366.8 L306.8,366.5 L310.2,366.1 L312.8,364.9 L315.5,365.4 L318.2,364.7 L320.9,365.0 L323.5,363.9 L326.3,365.1 L328.8,363.7 L331.6,364.1" fill="none" stroke="#000" stroke-width="2" stroke-linejoin="round"/>
<path d="M331.6,374.8 L328.9,376.3 L326.2,377.8" fill="none" stroke="#000" stroke-width="2" stroke-linejoin="round"/>
<path d="M285.3,289.4 L294.2,287.7 L299.6,292.1 L297.8,299.2 L288.9,300.1 L285.3,295.7Z" fill="none" stroke="#000" stroke-width="2" stroke-linejoin="round"/>
<path d="M212.4,321.4 L217.8,319.7 L226.7,319.7 L226.7,322.3 L217.8,322.7 L212.4,323.2Z" fill="none" stroke="#000" stroke-width="2" stroke-linejoin="round"/>
<path d="M223.1,327.7 L230.2,326.8 L235.6,330.3 L240.9,334.8 L242.7,338.3 L235.6,340.1 L228.4,338.3 L224.9,333.0Z" fill="none" stroke="#000" stroke-width="2" stroke-linejoin="round"/>
<path d="M266.7,376.0 L274.7,375.3 L281.8,377.4 L280.9,379.6 L272.9,378.9 L267.2,377.8Z" fill="none" stroke="#000" stroke-width="2" stroke-linejoin="round"/>
<path d="M283.6,379.2 L290.7,380.1 L296.9,381.9 L296.0,384.2 L288.9,383.1 L283.9,381.4Z" fill="none" stroke="#000" stroke-width="2" stroke-linejoin="round"/>
<path d="M328.0,380.0 L325.5,381.5 L323.6,383.6 L321.7,385.3 L320.2,387.3 L318.2,388.9 L316.4,391.5 L314.7,394.2 L312.4,395.9 L310.2,397.8 L308.4,400.4 L311.6,400.7 L314.7,399.9 L318.2,399.0 L321.8,399.6 L321.8,402.2 L319.1,403.5 L316.4,404.9 L312.9,407.6 L311.1,412.0 L309.1,413.7 L306.7,414.7 L303.1,413.8 L304.0,417.3 L302.5,419.8 L300.4,421.8 L296.8,421.7 L293.3,422.7 L290.7,424.4 L288.0,426.2 L285.3,427.9 L282.7,429.8 L280.1,430.2 L277.7,430.9 L275.6,432.4 L273.2,433.4 L270.7,434.0 L268.4,435.1 L266.1,436.3 L263.7,437.5 L261.3,438.7 L258.1,440.1 L255.1,442.2 L258.2,442.1 L261.3,442.2 L264.3,441.7 L267.3,441.0 L270.2,440.4 L273.1,440.5 L275.6,439.5 L278.4,439.1 L280.9,437.8 L284.0,438.0 L286.7,436.2 L289.8,436.0 L292.5,433.9 L295.1,431.6 L299.6,432.4 L301.3,436.9 L304.3,438.1 L307.6,437.8 L311.2,438.1 L314.7,437.2 L318.2,436.4 L321.8,436.9 L323.9,435.4 L326.5,435.0 L328.9,434.2 L332.4,433.3 L331.2,435.7 L328.9,436.9 L325.3,439.6 L328.8,438.6 L332.4,438.7 L335.8,437.0 L339.6,436.9 L343.1,436.7 L346.7,436.0 L349.2,435.6 L351.7,434.9 L353.8,433.3 L355.1,431.1 L357.3,429.8 L358.6,427.2 L359.1,424.4 L361.9,423.8 L364.4,422.7 L365.7,419.6 L368.0,417.3 L371.6,418.2 L369.8,422.7 L367.5,424.0 L366.2,426.2 L368.8,427.5 L371.6,427.1 L375.2,427.1 L378.7,428.0 L382.0,429.7 L385.8,429.8 L389.4,430.0 L392.9,430.7 L396.4,431.1 L400.0,431.6" fill="none" stroke="#000" stroke-width="2" stroke-linejoin="round"/>
<path d="M400.0,432.4 L396.4,431.8 L392.9,433.0 L389.4,432.1 L385.8,432.4 L382.1,432.1 L378.7,430.7 L375.1,431.2 L371.6,431.6 L368.0,432.4 L364.4,433.3 L362.2,434.5 L359.9,435.6 L357.3,436.0 L353.9,437.2 L350.2,437.8 L346.6,437.8 L343.1,438.7 L339.7,440.0 L336.0,439.6 L332.4,439.9 L328.9,440.4 L325.3,441.0 L321.8,441.3 L318.3,442.6 L314.7,442.2 L311.1,443.0 L307.6,443.1 L304.1,442.0 L300.4,441.3 L296.9,441.3 L293.3,441.3 L290.8,442.6 L288.0,442.2 L285.6,443.4 L284.4,445.8 L283.6,450.2 L284.4,452.9 L288.9,452.9 L285.8,452.4 L282.7,452.9 L278.9,453.0 L275.6,454.7 L272.2,456.2 L268.4,456.4 L265.6,457.5 L262.7,458.4 L259.6,458.2 L256.3,458.6 L253.3,460.0" fill="none" stroke="#000" stroke-width="2" stroke-linejoin="round"/>
<path d="M280.9,380.0 L293.3,380.0 L304.0,384.4 L302.2,387.1 L293.3,385.3 L284.4,382.1Z" fill="none" stroke="#000" stroke-width="2" stroke-linejoin="round"/>
<path d="M354.7,422.7 L360.9,420.0 L368.0,415.6 L371.6,418.2 L368.0,424.4 L362.7,426.6 L357.3,426.6Z" fill="none" stroke="#000" stroke-width="2" stroke-linejoin="round"/>
<path d="M253.6,457.7 L255.3,462.1 L258.2,463.2 L261.2,462.8 L264.2,463.0 L266.0,467.4 L264.8,470.0 L264.2,472.8 L262.4,474.6 L265.1,474.8 L267.5,475.6 L269.6,477.2 L272.5,477.9 L275.5,477.7 L278.4,478.1 L275.0,479.3 L271.3,479.0 L268.3,478.5 L265.4,479.4 L262.4,479.9 L258.8,480.3 L255.3,481.7 L252.5,482.0 L250.0,480.8 L247.7,478.1 L244.7,476.3 L241.1,473.7 L239.3,477.2 L237.0,479.3 L234.0,479.9 L231.1,480.2 L228.7,481.7 L226.9,477.2 L223.3,475.4 L219.8,476.4 L216.2,477.2 L214.0,478.4 L211.4,478.9 L209.1,479.9 L206.2,480.0 L203.8,481.7 L201.3,483.8 L198.4,485.2 L194.0,487.0 L194.2,489.8 L193.1,492.3 L194.0,495.9 L198.4,496.8 L200.8,495.9 L203.0,494.6 L205.6,494.1 L208.4,493.1 L211.4,492.9 L214.4,493.2 L217.6,493.0 L220.5,493.9 L223.3,495.0 L226.3,494.7 L229.3,494.6 L232.2,495.0 L235.3,494.9 L238.1,493.4 L241.1,493.2 L244.1,492.9 L247.0,492.1 L250.0,492.3 L252.9,491.8 L255.8,490.9 L258.9,491.4 L261.8,490.7 L264.7,490.0 L267.8,490.6 L270.4,491.0 L273.1,490.6 L275.8,490.6" fill="none" stroke="#000" stroke-width="2" stroke-linejoin="round"/>
<path d="M275.8,490.6 L272.9,492.4 L269.6,493.2 L266.9,493.7 L264.1,493.3 L261.7,495.3 L258.9,495.0 L256.0,495.3 L253.6,496.8 L251.0,498.7 L248.2,500.3 L245.9,501.2 L243.3,501.5 L241.1,503.0 L237.6,504.1 L234.0,504.8 L231.6,505.7 L229.1,506.2 L226.9,507.4 L224.2,507.5 L222.2,509.5 L219.8,510.1 L216.8,510.9 L214.4,512.8 L211.9,513.6 L209.6,514.9 L207.3,516.3 L205.0,517.4 L202.7,518.4 L200.2,519.0 L197.6,520.8 L201.1,523.4 L203.7,524.1 L205.6,526.1 L207.1,528.6 L207.3,531.4 L209.8,529.8 L212.7,529.7 L215.3,528.8" fill="none" stroke="#000" stroke-width="2" stroke-linejoin="round"/>
<path d="M210.9,511.9 L213.4,513.2 L216.2,513.7 L219.7,512.4 L223.3,511.9 L220.6,513.9 L217.7,515.5 L214.4,516.3 L211.6,516.6 L209.1,518.1" fill="none" stroke="#000" stroke-width="2" stroke-linejoin="round"/>
<path d="M348.0,560.4 L350.8,560.4 L353.3,559.1 L356.9,559.0 L360.4,558.2 L363.0,558.7 L365.3,559.6 L367.6,560.9 L370.2,560.1 L372.9,560.0 L374.6,557.3 L376.4,554.7 L379.9,553.2 L383.6,552.9 L387.1,553.7 L390.7,554.7 L393.5,555.2 L396.0,556.4 L398.7,552.9 L397.1,550.7 L395.0,549.2 L392.4,548.4 L396.0,548.1 L399.6,547.6 L403.1,547.1 L406.7,547.6 L410.0,549.3 L413.8,549.3 L415.6,552.9 L416.1,550.1 L417.3,547.6 L419.9,546.0 L422.7,544.9 L425.0,543.1 L428.0,543.1 L430.3,542.0 L432.7,541.3 L435.1,540.4 L436.9,538.7 L438.7,536.9 L440.0,533.9 L442.2,531.6 L444.9,529.8 L447.6,528.0 L449.6,526.3 L452.1,525.8 L454.7,525.3 L458.2,522.7 L454.7,520.9 L451.9,521.2 L449.3,520.0 L445.8,520.2 L442.2,520.0 L438.8,521.3 L435.1,520.9 L432.4,521.7 L429.8,520.9" fill="none" stroke="#000" stroke-width="2" stroke-linejoin="round"/>
<path d="M404.9,538.7 L407.8,540.2 L410.2,542.2 L413.8,541.7 L417.3,542.2 L420.9,541.9 L424.4,541.3 L428.0,543.1" fill="none" stroke="#000" stroke-width="2" stroke-linejoin="round"/>
<path d="M435.1,526.2 L438.7,527.2 L442.2,528.0 L445.9,527.5 L449.3,526.2 L452.9,526.7 L456.4,526.6 L457.9,529.3 L460.0,531.6" fill="none" stroke="#000" stroke-width="2" stroke-linejoin="round"/>
<path d="M440.0,536.7 L442.0,535.1 L443.6,533.1 L446.9,531.4 L450.7,531.3 L454.1,532.4 L457.8,532.2 L460.9,532.3 L463.7,531.3 L466.7,530.4 L469.8,529.7 L472.8,528.6 L475.6,526.9 L477.7,525.4 L480.3,525.2 L482.7,524.2 L485.0,523.3 L487.6,523.0 L489.8,521.6 L488.0,518.9 L491.6,517.1 L493.3,513.6 L496.9,511.8 L500.4,514.4 L504.1,514.5 L507.6,513.6 L511.3,513.2 L514.7,511.8 L518.3,511.0 L521.8,510.0 L525.3,508.2 L527.1,504.7 L528.9,502.0 L525.3,499.3 L521.8,498.4 L523.6,496.7 L527.1,497.6 L530.7,496.7 L533.5,496.7 L536.0,495.4 L539.6,495.0 L543.1,494.0 L546.7,493.6 L550.2,492.6 L553.8,491.9 L557.3,492.2 L560.9,491.6 L564.4,492.6 L568.0,491.7 L571.6,492.2 L575.1,491.1 L578.7,490.4" fill="none" stroke="#000" stroke-width="2" stroke-linejoin="round"/>
<path d="M440.0,522.4 L447.1,521.6 L452.4,523.3 L447.1,526.9 L441.8,529.6Z" fill="none" stroke="#000" stroke-width="2" stroke-linejoin="round"/>
<path d="M580.0,490.2 L583.3,490.0 L586.2,488.7 L589.3,489.5 L592.4,490.2 L597.1,488.7 L598.7,484.0 L597.3,480.8 L595.6,477.8 L594.8,476.2 L598.7,479.3 L600.8,481.8 L603.3,484.0 L604.9,488.7 L603.3,493.3 L608.0,491.8 L610.6,489.7 L612.7,487.1 L615.0,484.8 L617.3,482.4 L619.2,480.1 L622.0,479.3 L618.9,482.4 L620.4,484.8 L623.6,484.9 L626.7,484.0 L629.7,484.8 L632.9,484.8 L636.0,485.9 L639.1,487.1 L642.2,488.7 L645.3,488.0 L648.4,487.1 L651.6,486.6 L654.7,485.6 L658.0,485.6 L660.9,487.1 L663.9,488.3 L667.1,488.7 L668.3,486.1 L670.2,484.0 L673.3,480.9 L670.6,480.0 L668.7,477.8 L665.6,476.2 L664.0,473.1 L660.9,470.0 L657.8,468.4 L653.1,466.9 L654.7,465.3 L657.2,466.1 L659.3,467.7 L664.0,468.4 L668.7,467.7 L667.9,464.6 L670.1,462.9 L671.8,460.7 L673.7,458.0 L676.4,456.0 L678.3,454.2 L680.2,452.4 L681.1,449.8 L683.4,447.4 L685.8,445.1 L687.3,442.0 L684.2,438.9 L683.4,434.2 L684.4,431.8 L685.8,429.6 L688.9,425.7 L691.2,421.8 L692.4,419.4 L693.6,417.1 L695.1,413.2 L698.2,409.3 L700.7,408.1 L702.9,406.2 L706.0,403.1 L707.6,400.0" fill="none" stroke="#000" stroke-width="2" stroke-linejoin="round"/>
<path d="M622.7,255.0 L625.3,254.6 L627.8,256.2 L630.4,255.8 L634.3,258.1 L635.1,261.2 L632.8,264.3 L632.0,267.4 L633.6,270.6 L638.2,271.3 L641.3,270.4 L644.4,270.6 L647.7,271.0 L650.7,269.8 L653.9,270.2 L656.9,269.0 L659.9,267.7 L663.1,268.2 L666.2,265.1 L668.8,264.7 L671.5,265.0 L674.0,264.0 L676.8,266.1 L680.2,266.7 L683.4,268.1 L686.4,269.8 L689.7,271.0 L692.7,272.9 L695.3,274.0 L697.3,276.0 L694.6,276.4 L692.7,278.3 L688.0,279.1 L684.8,278.8 L681.8,277.6 L677.1,276.8 L672.4,275.2 L667.8,274.4 L663.9,275.2 L667.0,276.8 L665.9,281.4 L666.2,286.1 L667.8,289.2 L670.9,290.1 L674.0,290.8 L678.7,292.3 L680.2,295.4 L679.4,300.1 L681.8,300.9 L680.2,304.8 L677.1,307.9 L674.1,308.9 L670.9,308.7 L673.5,309.0 L676.0,310.0 L678.7,309.4 L681.0,312.6 L682.8,314.6 L683.3,317.2 L685.3,319.3 L688.0,320.3 L690.3,321.9 L692.7,323.4 L694.7,325.2 L697.3,325.8 L700.4,328.9" fill="none" stroke="#000" stroke-width="2" stroke-linejoin="round"/>
<path d="M398.0,429.6 L401.3,428.7 L404.7,429.3 L407.3,430.0 L404.7,431.3 L401.9,431.3 L399.3,432.0 L396.7,432.1" fill="none" stroke="#000" stroke-width="2" stroke-linejoin="round"/>
<path d="M699.7,330.0 L696.9,332.8 L694.2,334.2 L691.2,334.3 L695.0,335.7 L693.1,338.5 L689.8,338.8 L686.4,339.0 L689.7,339.9 L693.1,340.4 L695.0,343.3 L693.1,346.1 L697.8,347.1 L700.5,348.6 L703.5,349.0 L701.6,350.4 L696.9,349.0 L693.1,349.4 L690.4,350.6 L687.4,350.9 L683.1,351.3 L684.5,353.7 L687.4,356.5 L690.4,357.1 L693.1,358.4 L695.7,359.2 L697.8,360.8 L695.9,362.7 L696.9,367.0 L699.7,370.8 L702.6,374.5 L704.5,377.4 L705.1,380.2 L705.4,383.1 L704.5,386.9 L703.5,389.7 L704.5,392.0 L705.4,394.5 L709.2,396.8 L707.3,400.1" fill="none" stroke="#000" stroke-width="2" stroke-linejoin="round"/>
<path d="M514.9,166.2 L517.6,165.3 L519.3,163.1 L521.9,162.3 L523.8,160.4 L528.2,158.2 L532.7,156.4 L533.6,153.8 L533.6,149.3 L533.6,145.8 L532.3,143.5 L530.0,142.2 L527.3,141.6 L525.6,139.6 L522.0,137.8 L521.6,135.0 L522.9,132.4 L521.1,129.3 L518.4,128.4 L514.9,129.3 L513.1,130.7 L510.4,131.1 L507.8,132.0 L505.1,132.4 L503.3,133.3 L501.6,132.9 L498.9,133.3 L495.3,134.2 L492.7,135.6 L493.6,137.8 L491.8,140.4 L490.0,141.3" fill="none" stroke="#000" stroke-width="2" stroke-linejoin="round"/>
<path d="M510.4,131.4 L511.3,134.2 L514.0,137.8 L515.8,142.2 L514.0,145.8 L512.2,148.4 L511.3,145.8 L512.2,142.2 L510.0,138.2 L507.3,136.4 L505.1,136.9" fill="none" stroke="#000" stroke-width="2" stroke-linejoin="round"/>
<path d="M514.9,166.2 L518.4,164.4 L522.0,162.2 L525.6,160.0 L530.0,157.8 L534.4,156.4 L538.0,156.0 L541.1,155.7" fill="none" stroke="#000" stroke-width="2" stroke-linejoin="round"/>
<path d="M519.3,155.6 L523.8,153.8 L528.2,152.4 L531.8,151.6 L536.2,151.1 L539.8,152.0 L542.4,153.8" fill="none" stroke="#000" stroke-width="2" stroke-linejoin="round"/>
<path d="M548.2,117.3 L551.3,119.1 L552.2,121.8 L551.3,124.4 L546.9,126.2 L543.3,127.1 L539.8,127.1 L536.2,127.6 L534.0,128.4 L532.5,130.7 L531.8,133.3 L531.3,136.4 L534.4,139.6 L536.2,141.9 L538.9,143.1 L541.1,146.7 L541.6,151.1 L542.4,153.8 L541.1,155.7" fill="none" stroke="#000" stroke-width="2" stroke-linejoin="round"/>
<path d="M552.2,121.8 L554.9,125.3 L558.4,127.1 L561.1,127.7 L563.8,128.4 L561.1,129.1 L556.7,128.4 L554.0,126.2" fill="none" stroke="#000" stroke-width="2" stroke-linejoin="round"/>
<path d="M249.0,264.0 L251.8,263.9 L254.4,262.6 L257.2,263.1 L260.0,263.0 L261.5,265.5 L264.0,267.0 L261.6,268.6 L260.0,271.0 L257.2,271.0 L254.5,271.5 L252.0,273.0 L249.6,270.8 L248.0,268.0 L249.0,264.0" fill="none" stroke="#000" stroke-width="2" stroke-linejoin="round"/>
<path d="M254.0,273.0 L257.2,273.3 L260.0,275.0 L263.3,276.5 L266.0,279.0 L268.0,282.0 L270.0,285.0 L268.0,289.0 L265.3,289.3 L262.5,289.6 L260.0,291.0 L257.1,289.6 L254.0,289.0" fill="none" stroke="#000" stroke-width="2" stroke-linejoin="round"/>
<path d="M234.0,261.0 L236.2,259.2 L238.3,257.3 L240.0,255.0 L241.9,252.9 L244.1,251.1 L246.0,249.0 L248.7,247.2 L252.0,247.0 L254.7,249.4 L258.0,251.0 L259.5,253.8 L260.0,257.0 L257.5,258.5 L256.0,261.0 L253.1,259.8 L250.0,259.0 L247.2,260.8 L244.0,262.0 L241.3,264.1 L238.0,265.0" fill="none" stroke="#000" stroke-width="2" stroke-linejoin="round"/>
<path d="M218.0,279.0 L220.6,277.9 L223.4,277.9 L226.0,277.0 L228.8,276.7 L231.2,275.0 L234.0,275.0 L236.5,274.2 L239.0,275.0 L241.5,275.1 L244.0,275.0 L247.1,275.8 L250.0,277.0 L254.0,279.0 L256.9,277.7 L260.0,277.4 L262.6,278.2 L265.5,277.9 L268.0,279.4 L269.3,282.1 L270.0,285.0" fill="none" stroke="#000" stroke-width="2" stroke-linejoin="round"/>
<path d="M226.0,325.0 L228.6,324.3 L231.5,324.5 L234.0,323.0 L236.6,323.9 L239.2,325.0 L242.0,325.0 L244.7,325.6 L247.4,325.9 L250.0,327.0 L248.3,328.9 L246.0,330.0 L243.4,328.8 L240.7,329.0 L238.0,329.0 L235.1,330.3 L232.0,331.0 L235.1,331.6 L237.3,333.7 L240.0,335.0 L241.8,337.2 L244.0,339.0 L241.4,339.8 L238.8,340.8 L236.0,341.0 L233.1,339.7 L230.0,339.0 L227.5,340.5 L226.0,343.0 L229.2,343.5 L232.0,345.0 L234.8,344.5 L237.4,345.4 L240.0,346.0 L242.6,345.5 L245.4,345.7 L248.0,345.0" fill="none" stroke="#000" stroke-width="2" stroke-linejoin="round"/>
<path d="M258.0,345.0 L260.8,343.5 L264.0,343.0 L266.8,344.5 L270.0,345.0 L268.0,349.0 L264.9,349.6 L262.0,351.0 L260.0,355.0 L263.0,356.0 L266.0,357.0 L268.9,356.0 L272.0,356.0 L274.5,355.2 L276.0,353.0" fill="none" stroke="#000" stroke-width="2" stroke-linejoin="round"/>
<path d="M276.0,363.0 L277.8,360.8 L280.4,359.4 L282.0,357.0 L283.7,354.7 L285.6,352.6 L288.0,351.0 L291.2,349.9 L294.0,348.0 L298.0,350.0 L296.3,352.7 L294.0,355.0 L291.4,356.4 L290.0,359.0 L293.0,360.0 L296.0,361.0 L300.0,363.0 L297.2,364.5 L294.0,365.0 L291.4,365.8 L288.7,365.8 L286.0,366.0 L283.0,365.2 L280.0,365.0" fill="none" stroke="#000" stroke-width="2" stroke-linejoin="round"/>
<path d="M215.0,528.3 L219.0,526.3 L221.6,527.5 L224.3,527.0 L227.0,531.0 L224.3,533.7 L228.3,535.7 L231.1,535.4 L233.7,536.3 L236.3,535.3 L238.8,534.1 L241.7,533.7 L244.5,533.8 L246.8,531.7 L249.7,531.7 L252.1,530.2 L254.8,529.6 L257.7,529.7 L260.3,529.0 L263.1,529.5 L265.7,528.3 L268.5,528.3 L271.1,527.4 L273.7,526.3 L276.6,526.5 L279.2,525.8 L281.7,524.3 L284.3,523.6 L286.9,522.9 L289.7,523.0 L293.2,523.1 L296.3,521.7" fill="none" stroke="#000" stroke-width="2" stroke-linejoin="round"/>
<path d="M296.3,522.3 L292.9,522.9 L289.7,524.3 L287.2,525.8 L284.3,525.4 L281.7,526.3 L279.1,527.4 L276.4,528.3 L273.7,529.0 L271.1,530.3 L268.3,531.0 L264.3,533.0 L263.0,535.0 L259.0,536.3 L256.5,537.9 L253.7,538.3 L251.3,540.2 L248.3,540.3 L245.8,541.4 L243.0,541.7 L240.4,542.9 L237.7,543.7 L235.0,547.0 L232.3,549.7 L229.3,550.3 L227.0,552.3 L224.6,554.0 L221.7,554.3 L219.7,555.7" fill="none" stroke="#000" stroke-width="2" stroke-linejoin="round"/>
<path d="M219.7,555.7 L222.8,556.2 L225.7,555.0 L228.9,553.8 L232.3,553.7 L235.0,553.4 L237.7,553.7 L241.1,553.6 L244.3,552.3 L247.1,552.5 L249.6,551.3 L252.3,551.0 L255.5,549.5 L259.0,549.7 L262.3,549.3 L265.7,549.0 L268.3,548.1 L271.0,547.7 L274.6,547.4 L277.7,545.7 L280.9,544.5 L284.3,544.3 L286.9,543.4 L289.7,543.0 L292.6,542.7 L295.0,541.0 L297.3,538.9 L300.3,538.3 L303.0,538.5 L305.7,539.0 L309.7,541.0 L308.3,544.3 L304.8,545.1 L301.7,547.0 L298.2,547.9 L295.0,549.7 L292.7,551.7 L289.7,552.3 L287.2,553.8 L284.3,553.7 L281.2,555.4 L277.7,555.7 L274.7,556.0 L272.3,557.7 L269.8,558.8 L267.0,559.0 L263.0,561.0" fill="none" stroke="#000" stroke-width="2" stroke-linejoin="round"/>
<path d="M263.0,561.0 L265.7,561.1 L268.3,560.3 L271.8,560.4 L275.0,559.0 L278.3,558.0 L281.7,557.7 L284.2,556.6 L287.2,557.1 L289.7,555.7 L293.1,554.9 L296.3,553.7 L300.3,553.0 L297.8,554.4 L295.0,555.0 L291.5,556.0 L288.3,557.7 L285.1,559.3 L281.7,560.3 L279.1,561.7 L276.3,562.3 L274.0,564.2 L271.0,564.3 L267.0,566.3 L265.7,568.3 L268.3,571.0 L271.1,570.8 L273.7,569.7 L276.6,569.4 L279.0,567.7" fill="none" stroke="#000" stroke-width="2" stroke-linejoin="round"/>
<path d="M220.3,541.7 L223.0,540.8 L225.7,540.3 L228.4,540.2 L231.0,541.0 L228.3,543.0 L225.7,543.5 L223.0,543.7" fill="none" stroke="#000" stroke-width="2" stroke-linejoin="round"/>
<path d="M235.0,537.7 L238.3,537.3 L241.7,537.0 L244.4,537.4 L247.0,536.3 L243.0,539.0 L240.4,539.9 L237.7,539.7" fill="none" stroke="#000" stroke-width="2" stroke-linejoin="round"/>
<path d="M280.0,568.4 L283.6,565.8 L288.0,564.0 L291.6,565.8 L296.0,565.3 L300.4,563.6 L304.9,563.1 L309.3,561.3 L310.2,558.7 L313.8,560.0 L317.3,561.3 L315.6,564.0 L312.9,565.8 L311.1,568.4 L313.8,569.3 L317.3,567.6 L320.0,566.7 L322.7,564.9 L324.4,561.3 L326.2,562.2 L324.0,564.1 L322.7,566.7 L324.4,568.4 L328.9,566.7 L333.3,566.7 L337.8,565.8 L341.3,563.1 L344.0,561.3 L345.8,556.9 L347.6,558.7" fill="none" stroke="#000" stroke-width="2" stroke-linejoin="round"/>
<path d="M600.0,232.0 L602.8,232.1 L605.2,233.1 L607.6,234.5 L608.9,237.5 L611.0,240.0 L612.6,242.8 L613.4,246.0 L616.1,246.8 L618.0,249.0 L620.2,250.5 L621.1,253.1 L622.7,255.0" fill="none" stroke="#000" stroke-width="2" stroke-linejoin="round"/>
<path d="M425.6,166.7 L428.9,164.4 L431.7,164.7 L434.4,165.6 L433.3,168.3 L428.9,168.9 L425.6,166.7" fill="none" stroke="#000" stroke-width="2" stroke-linejoin="round"/>
<path d="M434.4,172.8 L437.8,171.3 L441.7,173.3 L437.8,174.7 L434.4,172.8" fill="none" stroke="#000" stroke-width="2" stroke-linejoin="round"/>
<path d="M300.0,240.1 L298.0,239.4 L296.0,238.8" fill="none" stroke="#000" stroke-width="2" stroke-linejoin="round"/>
<path d="M331.6,364.1 L334.3,363.1 L337.1,362.8 L340.0,363.3 L342.7,363.0 L345.4,363.1 L348.0,362.4 L350.6,361.7 L353.2,360.8 L356.0,360.7 L358.7,360.3 L361.4,360.4 L364.0,360.0 L366.6,360.7 L369.3,360.7 L370.7,362.7 L366.7,365.3 L363.3,365.2 L360.0,366.0 L357.3,367.3 L359.9,368.3 L362.7,368.0 L365.4,367.9 L368.0,367.3 L370.6,366.3 L373.3,366.7 L376.7,366.4 L374.0,367.3 L372.0,369.3 L369.3,371.3 L370.7,374.7 L366.7,374.7 L363.3,374.4 L360.0,373.3 L356.6,373.5 L353.3,374.0 L350.7,374.6 L348.0,374.7 L345.3,377.3 L342.7,376.6 L340.0,376.7 L337.1,376.6 L334.3,375.9 L331.6,374.8" fill="none" stroke="#000" stroke-width="2" stroke-linejoin="round"/>
<path d="M326.2,377.8 L327.0,379.0 L328.0,380.0" fill="none" stroke="#000" stroke-width="2" stroke-linejoin="round"/>
<path d="M249.0,247.6 L252.1,251.4 L254.7,255.2 L255.8,258.0 L257.8,260.3" fill="none" stroke="#000" stroke-width="3" stroke-linejoin="round"/>
<path d="M260.4,276.0 L262.7,278.0 L265.4,279.2 L266.9,281.5 L269.2,283.0 L270.7,285.1 L271.7,287.4" fill="none" stroke="#000" stroke-width="3" stroke-linejoin="round"/>
<path d="M263.0,240.0 L267.0,242.5 L271.0,244.5 L274.5,247.0" fill="none" stroke="#000" stroke-width="3" stroke-linejoin="round"/>
<path d="M448.0,129.6 L452.0,130.0 L455.6,131.6 L452.4,132.0 L449.0,131.0Z" fill="#000" stroke="#000" stroke-width="1.5" stroke-linejoin="round"/>
<path d="M476.0,137.0 L480.0,135.0 L484.0,136.0 L483.0,139.0 L479.0,139.6Z" fill="#000" stroke="#000" stroke-width="1.5" stroke-linejoin="round"/>
<path d="M400.0,225.6 L402.4,225.6 L402.4,227.2 L400.0,227.2Z" fill="#000" stroke="#000" stroke-width="1.5" stroke-linejoin="round"/>
<path d="M400.3,225.3 L402.7,225.3 L402.7,227.4 L400.3,227.4Z" fill="#000" stroke="#000" stroke-width="1.5" stroke-linejoin="round"/>
<path d="M219.6,260.0 L222.5,258.8 L225.4,260.0 L224.2,262.9 L222.5,265.2 L219.6,264.7Z" fill="#000" stroke="#000" stroke-width="1.5" stroke-linejoin="round"/>
<path d="M225.4,267.2 L227.4,267.2 L227.4,269.1 L225.4,269.1Z" fill="#000" stroke="#000" stroke-width="1.5" stroke-linejoin="round"/>
<path d="M230.2,309.9 L237.3,309.5 L237.3,311.7 L230.6,312.0Z" fill="#000" stroke="#000" stroke-width="1.5" stroke-linejoin="round"/>
<path d="M242.1,308.5 L243.9,308.5 L243.9,310.2 L242.1,310.2Z" fill="#000" stroke="#000" stroke-width="1.5" stroke-linejoin="round"/>
<path d="M297.8,384.6 L304.0,384.9 L304.0,387.2 L298.1,387.2Z" fill="#000" stroke="#000" stroke-width="1.5" stroke-linejoin="round"/>
<path d="M178.0,493.2 L180.7,492.7 L181.0,494.5 L178.5,495.0Z" fill="#000" stroke="#000" stroke-width="1.5" stroke-linejoin="round"/>
<path d="M180.7,497.7 L187.8,495.9 L188.7,498.0 L181.6,499.8Z" fill="#000" stroke="#000" stroke-width="1.5" stroke-linejoin="round"/>
<path d="M175.0,501.6 L178.0,501.6 L178.0,503.9 L175.3,503.9Z" fill="#000" stroke="#000" stroke-width="1.5" stroke-linejoin="round"/>
<path d="M217.1,537.7 L222.4,537.7 L222.4,540.0 L217.1,540.0Z" fill="#000" stroke="#000" stroke-width="1.5" stroke-linejoin="round"/>
<path d="M637.6,494.1 L639.9,494.1 L639.9,496.1 L637.6,496.1Z" fill="#000" stroke="#000" stroke-width="1.5" stroke-linejoin="round"/>
<path d="M705.1,334.3 L709.0,334.6 L709.0,337.1 L705.4,337.1Z" fill="#000" stroke="#000" stroke-width="1.5" stroke-linejoin="round"/>
<path d="M705.4,334.7 L708.2,334.7 L709.7,336.2 L707.3,337.1 L705.4,336.2Z" fill="#000" stroke="#000" stroke-width="1.5" stroke-linejoin="round"/>
<path d="M493.6,135.1 L497.1,133.8 L498.9,135.1 L496.2,136.9 L494.0,136.7Z" fill="#000" stroke="#000" stroke-width="1.5" stroke-linejoin="round"/>
<path d="M301.7,572.6 L307.0,571.7 L307.3,573.0 L302.3,573.9Z" fill="#000" stroke="#000" stroke-width="1.5" stroke-linejoin="round"/>
<path d="M216.3,538.3 L220.3,538.5 L220.3,539.8 L216.6,539.8Z" fill="#000" stroke="#000" stroke-width="1.5" stroke-linejoin="round"/>
<path d="M301.3,573.8 L304.9,572.0 L308.4,571.6 L306.7,573.3 L303.1,574.7Z" fill="#000" stroke="#000" stroke-width="1.5" stroke-linejoin="round"/>
<path d="M434.0,149.6 L435.0,149.6 L435.0,150.6 L434.0,150.6Z" fill="#000" stroke="#000" stroke-width="1.5" stroke-linejoin="round"/>
<path d="M425.0,153.4 L426.2,153.4 L426.2,154.4 L425.0,154.4Z" fill="#000" stroke="#000" stroke-width="1.5" stroke-linejoin="round"/>
<path d="M457.2,140.0 L458.4,140.0 L458.4,141.0 L457.2,141.0Z" fill="#000" stroke="#000" stroke-width="1.5" stroke-linejoin="round"/>
</g>
</svg>
<div id="frame"></div>
<div class="gs">
<div class="t" id="title">Ireland</div>
<div class="info" style="top:657px;font-weight:bold">Precipitation anomaly</div>
<div class="info" style="top:687px">Relative difference to Long Term Average</div>
<div class="info" style="top:717px">Dekad 2 October 2025</div>
<div class="info" style="top:747px">ECMWF</div>
<div class="info" style="top:777px">WGS84, Geographic Lat/Lon</div>
<div id="lt">Difference to LTA</div>
<div class="lb" style="top:671px;background:#a50026"></div>
<div class="lt" style="top:671px">&lt; -80%</div>
<div class="lb" style="top:688px;background:#d73027"></div>
<div class="lt" style="top:688px">&lt; -60%</div>
<div class="lb" style="top:705px;background:#f46d43"></div>
<div class="lt" style="top:705px">&lt; -40%</div>
<div class="lb" style="top:722px;background:#fdae61"></div>
<div class="lt" style="top:722px">&lt; -20%</div>
<div class="lb" style="top:739px;background:#fee090"></div>
<div class="lt" style="top:739px">&lt; -10%</div>
<div class="lt" style="top:756px;margin-left:1px">Normal</div>
<div class="lb" style="top:773px;background:#e0f3f8"></div>
<div class="lt" style="top:773px">&gt; 10%</div>
<div class="lb" style="top:790px;background:#abd9e9"></div>
<div class="lt" style="top:790px">&gt; 20%</div>
<div class="lb" style="top:807px;background:#74add1"></div>
<div class="lt" style="top:807px">&gt; 40%</div>
<div class="lb" style="top:824px;background:#4575b4"></div>
<div class="lt" style="top:824px">&gt; 60%</div>
<div class="lb" style="top:841px;background:#313695"></div>
<div class="lt" style="top:841px">&gt; 80%</div>
<div class="lb" style="top:869px;background:#999999"></div>
<div class="lt" style="top:869px">LTA=0</div>
<div class="lb" style="top:886px;background:#c8c8c8"></div>
<div class="lt" style="top:886px">desert</div>
<svg style="position:absolute;left:671px;top:729px" width="60" height="60" viewBox="-30 -30 60 60">
<defs>
<path id="arcL" d="M -23.3,1 A 23.3 23.3 0 0 0 -2.2,23.2"/>
<path id="arcR" d="M 2.2,23.2 A 23.3 23.3 0 0 0 23.3,1"/>
</defs>
<circle cx="0" cy="0" r="26.8" fill="#fff" stroke="#111" stroke-width="2.7"/>
<text x="-17.8" y="1.8" font-family="Liberation Sans" font-weight="bold" font-size="16.3" text-anchor="middle" fill="#111">F</text>
<text x="17.8" y="2.1" font-family="Liberation Sans" font-weight="bold" font-size="16.3" text-anchor="middle" fill="#111">O</text>
<text x="0" y="-10.4" font-family="Liberation Sans" font-weight="bold" font-size="16.3" text-anchor="middle" fill="#111">A</text>
<g fill="none" stroke="#111" stroke-width="1.2">
<path d="M -15.8,-20 L -2.5,9"/>
<path d="M -12.3,-20.8 L -1.2,3.5"/>
<path d="M 15.8,-20 L 2.5,9"/>
<path d="M 12.3,-20.8 L 1.2,3.5"/>
</g>
<path d="M 0,-9.5 C 2.4,-5 2.6,-3 0,-1.2 C -2.6,-3 -2.4,-5 0,-9.5 Z" fill="#111"/>
<ellipse cx="0" cy="3" rx="3.6" ry="2.8" fill="#111"/>
<ellipse cx="0" cy="8" rx="4.8" ry="3.2" fill="#111"/>
<ellipse cx="0" cy="13" rx="6.2" ry="4.3" fill="#111"/>
<path d="M -1.8,1 L 0,3.3 L 1.8,1 M -2.9,5.7 L 0,8.5 L 2.9,5.7 M -3.9,10.5 L 0,13.5 L 3.9,10.5" fill="none" stroke="#fff" stroke-width="0.7"/>
<rect x="-0.75" y="14" width="1.5" height="13" fill="#111"/>
<text font-family="Liberation Sans" font-size="6.4" font-weight="bold" fill="#111" letter-spacing="0.8"><textPath href="#arcL" startOffset="50%" text-anchor="middle">FIAT</textPath></text>
<text font-family="Liberation Sans" font-size="6.4" font-weight="bold" fill="#111" letter-spacing="0.8"><textPath href="#arcR" startOffset="50%" text-anchor="middle">PANIS</textPath></text>
</svg>

<div class="fao" style="top:734px">Food and Agriculture</div>
<div class="fao" style="top:752px">Organization of the</div>
<div class="fao" style="top:770px">United Nations</div>
<div style="position:absolute;left:673px;top:801px;width:215px;height:2px;background:#222"></div>
<div class="giews" style="top:813px">Global Information and Early</div>
<div class="giews" style="top:832px">Warning <span style="letter-spacing:-0.6px">System</span> – <span style="display:inline-block;transform:scaleX(0.84);transform-origin:0 0">GIEWS</span></div>
<div id="disc1">Disclaimer: The boundaries and names shown and the designations used on this map do not imply the expression of any opinion whatsoever on the part of FAO</div>
<div id="disc2">concerning the legal status of any country, territory, area or of its authorities, or concerning the delimitation of its frontiers and boundaries.</div>
</div>
</body></html>
